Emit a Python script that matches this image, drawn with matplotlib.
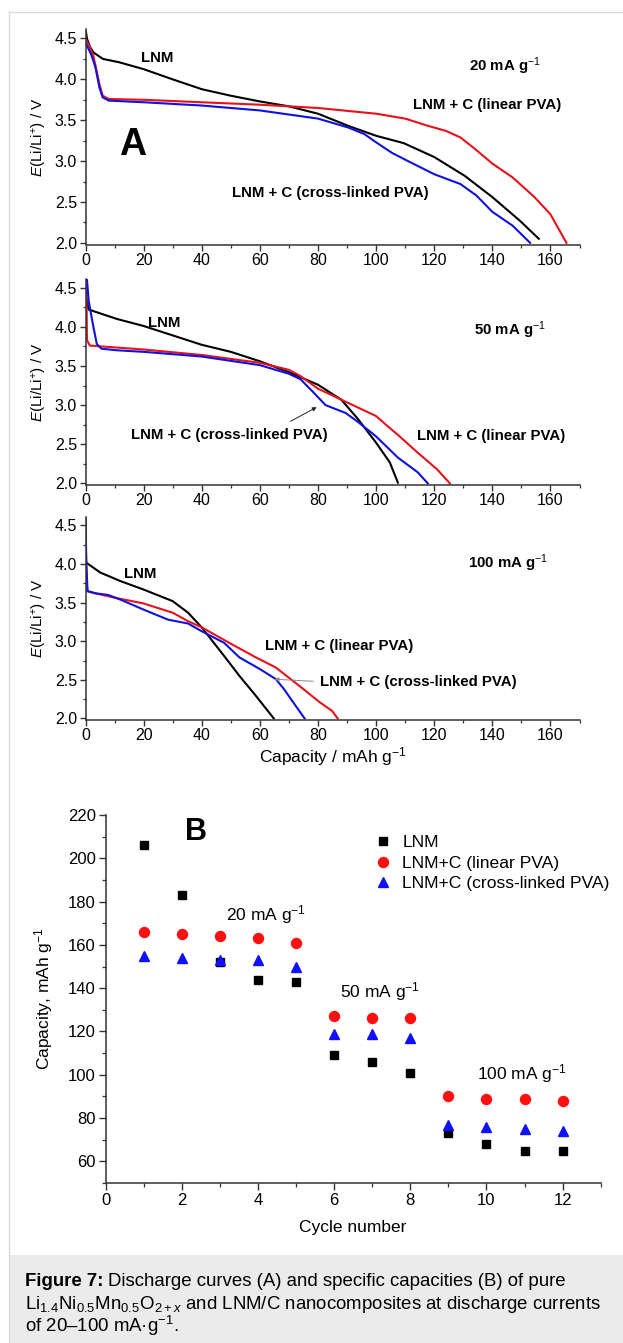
import matplotlib
matplotlib.use("Agg")
import matplotlib.pyplot as plt
from matplotlib.patches import Rectangle
from matplotlib.lines import Line2D
from matplotlib.ticker import MultipleLocator

plt.rcParams['font.family'] = ['Liberation Sans', 'DejaVu Sans']
plt.rcParams['mathtext.fontset'] = 'custom'
plt.rcParams['mathtext.rm'] = 'Liberation Sans'
plt.rcParams['mathtext.it'] = 'Liberation Sans:italic'
plt.rcParams['mathtext.bf'] = 'Liberation Sans:bold'

# ---------------- Data: panel A (discharge curves) ----------------
# 20 mA/g
a1_lnm_x = [0, 0.5, 1.5, 2.7, 6, 11.5, 20, 30, 40, 50, 60, 70, 80, 90.5, 100, 109.5, 120, 130.5, 140, 149.5, 156]
a1_lnm_y = [4.62, 4.5, 4.4, 4.33, 4.25, 4.21, 4.125, 4.0, 3.88, 3.8, 3.73, 3.67, 3.58, 3.43, 3.31, 3.22, 3.05, 2.82, 2.56, 2.27, 2.05]
a1_lin_x = [0, 1, 2.7, 4.8, 5.9, 8, 20, 40, 60, 80, 100, 110, 118, 124, 129, 134, 140, 147, 154.5, 160, 165.5]
a1_lin_y = [4.5, 4.43, 4.29, 3.94, 3.8, 3.76, 3.75, 3.72, 3.69, 3.65, 3.58, 3.52, 3.43, 3.37, 3.29, 3.15, 2.97, 2.8, 2.56, 2.35, 2.0]
a1_crs_x = [0, 2, 3.4, 4.8, 5.9, 8, 20, 40, 60, 80, 90.5, 96, 100, 105.5, 111, 120, 129, 134.5, 140, 147, 153]
a1_crs_y = [4.45, 4.3, 4.15, 3.9, 3.78, 3.74, 3.72, 3.68, 3.62, 3.52, 3.41, 3.33, 3.23, 3.1, 3.0, 2.84, 2.72, 2.58, 2.38, 2.21, 2.0]
# 50 mA/g
a2_lnm_x = [0, 0.3, 1.1, 10.8, 20, 30, 40, 50, 60, 70, 80, 88, 93.6, 100, 104.7, 107.5]
a2_lnm_y = [4.6, 4.35, 4.22, 4.1, 4.01, 3.89, 3.77, 3.68, 3.56, 3.42, 3.26, 3.07, 2.83, 2.52, 2.27, 2.01]
a2_lin_x = [0.3, 0.4, 0.5, 1.5, 5.2, 20, 40, 60, 70, 74, 80, 88, 100, 104, 107.5, 114.4, 121, 125.4]
a2_lin_y = [4.6, 4.2, 3.83, 3.76, 3.75, 3.71, 3.64, 3.54, 3.45, 3.37, 3.21, 3.07, 2.86, 2.73, 2.62, 2.39, 2.18, 2.0]
a2_crs_x = [0.5, 1.1, 2.5, 3.9, 5.5, 10.8, 20, 40, 60, 70, 74, 78.5, 82.6, 89.5, 93.6, 100, 107.5, 114.4, 117.8]
a2_crs_y = [4.6, 4.33, 4.04, 3.78, 3.72, 3.7, 3.68, 3.62, 3.51, 3.4, 3.33, 3.16, 3.0, 2.9, 2.79, 2.6, 2.33, 2.14, 2.0]
# 100 mA/g
a3_lnm_x = [0, 0.1, 0.2, 5.1, 12, 20, 30, 35.3, 40, 47.7, 53, 58.7, 64.8]
a3_lnm_y = [4.6, 4.2, 4.02, 3.89, 3.78, 3.67, 3.52, 3.37, 3.18, 2.81, 2.55, 2.29, 2.0]
a3_lin_x = [0, 0.3, 0.6, 2.3, 10.6, 20, 30, 35.3, 40, 50.4, 58.7, 65.5, 75, 80.6, 84.8, 86.8]
a3_lin_y = [4.4, 3.9, 3.65, 3.63, 3.56, 3.49, 3.37, 3.26, 3.18, 2.96, 2.79, 2.66, 2.38, 2.21, 2.1, 2.0]
a3_crs_x = [0, 0.3, 0.7, 3.7, 7.8, 12, 20, 28.4, 35.3, 40, 47.7, 53, 60, 65.5, 68.3, 72.4, 75.4]
a3_crs_y = [4.6, 4.0, 3.65, 3.62, 3.6, 3.54, 3.41, 3.28, 3.23, 3.13, 2.98, 2.79, 2.64, 2.51, 2.38, 2.16, 2.0]

# ---------------- Data: panel B (capacity vs cycle) ----------------
cycles = [1, 2, 3, 4, 5, 6, 7, 8, 9, 10, 11, 12]
cap_lnm = [206, 183, 152, 144, 143, 109, 106, 101, 73, 68, 65, 65]
cap_lin = [166, 165, 164, 163, 161, 127, 126, 126, 90, 89, 89, 88]
cap_crs = [155, 154, 153, 153, 150, 119, 119, 117, 77, 76, 75, 74]
legend_labels = ["LNM", "LNM+C (linear PVA)", "LNM+C (cross-linked PVA)"]

RED = '#e8101a'
BLUE = '#1010e0'

W, H = 623, 1343
fig = plt.figure(figsize=(W / 100, H / 100), dpi=100)
fig.patch.set_facecolor('white')

def fr(left, top, right, bottom):
    return [left / W, (H - bottom) / H, (right - left) / W, (bottom - top) / H]

# frame and caption
fig.add_artist(Line2D([8.7 / W, 1], [1 - 12 / H, 1 - 12 / H], color='#dcdcdc', lw=1.0))
fig.add_artist(Line2D([8.7 / W, 8.7 / W], [0, 1 - 12 / H], color='#dcdcdc', lw=1.0))
fig.add_artist(Rectangle((8.7 / W, 0), 1 - 8.7 / W, 88 / H, transform=fig.transFigure,
                         facecolor='#ebebeb', edgecolor='none'))

TICK_FS = 11.5
LAB_FS = 12.5
ANN_FS = 10.8

def style_A(ax, xlabel=False):
    ax.set_xlim(0, 170)
    ax.set_ylim(1.98, 4.61)
    for s in ['top', 'right']:
        ax.spines[s].set_visible(False)
    for s in ['left', 'bottom']:
        ax.spines[s].set_linewidth(1.1)
        ax.spines[s].set_color('#333333')
    ax.xaxis.set_major_locator(MultipleLocator(20))
    ax.xaxis.set_minor_locator(MultipleLocator(10))
    ax.yaxis.set_major_locator(MultipleLocator(0.5))
    ax.yaxis.set_minor_locator(MultipleLocator(0.25))
    ax.set_yticks([2.0, 2.5, 3.0, 3.5, 4.0, 4.5])
    ax.set_yticklabels(['2.0', '2.5', '3.0', '3.5', '4.0', '4.5'])
    ax.tick_params(which='major', direction='out', length=4.5, width=1.0, labelsize=TICK_FS, pad=1.5, color='#333333')
    ax.tick_params(which='minor', direction='out', length=2.5, width=0.9, color='#333333')
    ax.set_ylabel(r'$E$(Li/Li$^{+}$) / V', fontsize=11)
    ax.yaxis.set_label_coords(-0.093, 0.5)
    ax.yaxis.label.set_va('center')
    if xlabel:
        ax.set_xlabel(r'Capacity / mAh g$^{-1}$', fontsize=LAB_FS)
        ax.xaxis.set_label_coords(0.5, -0.182)
        ax.xaxis.label.set_va('center')

LW = 1.5
# ---- A1 ----
ax1 = fig.add_axes(fr(85.5, 29.5, 579.5, 244.5))
ax1.plot(a1_lnm_x, a1_lnm_y, color='black', lw=LW)
ax1.plot(a1_lin_x, a1_lin_y, color=RED, lw=LW)
ax1.plot(a1_crs_x, a1_crs_y, color=BLUE, lw=LW)
style_A(ax1)
ax1.text(16.3, 3.2, 'A', fontsize=27, fontweight='bold', ha='center', va='center')
ax1.text(19, 4.26, 'LNM', fontsize=ANN_FS, fontweight='bold', ha='left', va='center')
ax1.text(132, 4.155, r'20 mA g$^{-1}$', fontsize=ANN_FS, fontweight='bold', ha='left', va='center')
ax1.text(112.7, 3.686, 'LNM + C (linear PVA)', fontsize=ANN_FS, fontweight='bold', ha='left', va='center')
ax1.text(50.5, 2.61, 'LNM + C (cross-linked PVA)', fontsize=ANN_FS, fontweight='bold', ha='left', va='center')

# ---- A2 ----
ax2 = fig.add_axes(fr(85.5, 279, 579.5, 485))
ax2.plot(a2_lnm_x, a2_lnm_y, color='black', lw=LW)
ax2.plot(a2_lin_x, a2_lin_y, color=RED, lw=LW)
ax2.plot(a2_crs_x, a2_crs_y, color=BLUE, lw=LW)
style_A(ax2)
ax2.text(21.5, 4.05, 'LNM', fontsize=ANN_FS, fontweight='bold', ha='left', va='center')
ax2.text(133.7, 3.96, r'50 mA g$^{-1}$', fontsize=ANN_FS, fontweight='bold', ha='left', va='center')
ax2.text(15.6, 2.62, 'LNM + C (cross-linked PVA)', fontsize=ANN_FS, fontweight='bold', ha='left', va='center')
ax2.text(114, 2.60, 'LNM + C (linear PVA)', fontsize=ANN_FS, fontweight='bold', ha='left', va='center')
ax2.annotate('', xy=(80.4, 2.99), xytext=(69.7, 2.776),
             arrowprops=dict(arrowstyle='-|>', color='#222222', lw=0.7, mutation_scale=6))

# ---- A3 ----
ax3 = fig.add_axes(fr(85.5, 517, 579.5, 720))
ax3.plot(a3_lnm_x, a3_lnm_y, color='black', lw=LW)
ax3.plot(a3_lin_x, a3_lin_y, color=RED, lw=LW)
ax3.plot(a3_crs_x, a3_crs_y, color=BLUE, lw=LW)
style_A(ax3, xlabel=True)
ax3.text(13.3, 3.87, 'LNM', fontsize=ANN_FS, fontweight='bold', ha='left', va='center')
ax3.text(131.5, 4.01, r'100 mA g$^{-1}$', fontsize=ANN_FS, fontweight='bold', ha='left', va='center')
ax3.text(61.7, 2.94, 'LNM + C (linear PVA)', fontsize=ANN_FS, fontweight='bold', ha='left', va='center')
ax3.text(80.6, 2.47, 'LNM + C (cross-linked PVA)', fontsize=ANN_FS, fontweight='bold', ha='left', va='center')
ax3.annotate('', xy=(64.1, 2.51), xytext=(79.3, 2.48),
             arrowprops=dict(arrowstyle='-|>', color='#888888', lw=0.7, mutation_scale=6))

# ---- B ----
axb = fig.add_axes(fr(105.5, 815, 600.7, 1183))
axb.plot(cycles, cap_lnm, linestyle='none', marker='s', ms=6.2, color='black', label=legend_labels[0])
axb.plot(cycles, cap_lin, linestyle='none', marker='o', ms=7.2, color='#ff1010', label=legend_labels[1])
axb.plot(cycles, cap_crs, linestyle='none', marker='^', ms=7.8, color='#1010ff', label=legend_labels[2])
axb.set_xlim(0, 13)
axb.set_ylim(50, 220)
for s in ['top', 'right']:
    axb.spines[s].set_visible(False)
for s in ['left', 'bottom']:
    axb.spines[s].set_linewidth(1.1)
    axb.spines[s].set_color('#333333')
axb.xaxis.set_major_locator(MultipleLocator(2))
axb.xaxis.set_minor_locator(MultipleLocator(1))
axb.yaxis.set_major_locator(MultipleLocator(20))
axb.yaxis.set_minor_locator(MultipleLocator(10))
axb.set_yticks([60, 80, 100, 120, 140, 160, 180, 200, 220])
axb.tick_params(which='major', direction='out', length=5, width=1.0, labelsize=12, pad=2, color='#333333')
axb.tick_params(which='minor', direction='out', length=3, width=0.9, color='#333333')
axb.set_xlabel('Cycle number', fontsize=LAB_FS)
axb.xaxis.set_label_coords(0.5, -0.12)
axb.xaxis.label.set_va('center')
axb.set_ylabel(r'Capacity, mAh g$^{-1}$', fontsize=LAB_FS)
axb.yaxis.set_label_coords(-0.125, 0.5)
axb.yaxis.label.set_va('center')
axb.text(2.09, 212.1, 'B', fontsize=22, fontweight='bold', ha='left', va='center')
axb.text(3.17, 173.8, r'20 mA g$^{-1}$', fontsize=12.5, ha='left', va='center')
axb.text(6.16, 138.3, r'50 mA g$^{-1}$', fontsize=12.5, ha='left', va='center')
axb.text(9.75, 100.7, r'100 mA g$^{-1}$', fontsize=12.5, ha='left', va='center')
leg = axb.legend(loc='upper left', bbox_to_anchor=(0.543, 0.945), frameon=False, fontsize=12.6,
                 handlelength=1.0, handletextpad=0.6, labelspacing=0.3, borderpad=0,
                 borderaxespad=0, numpoints=1)

# ---- caption ----
CAP_FS = 13.4
cx = 24.6 / W
renderer = fig.canvas.get_renderer()
t_bold = fig.text(cx, (H - 1286) / H, 'Figure 7:', fontsize=CAP_FS, fontweight='bold',
                  ha='left', va='baseline')
bb = t_bold.get_window_extent(renderer=renderer)
fig.text(bb.x1 / W + 4.5 / W, (H - 1286) / H,
         'Discharge curves (A) and specific capacities (B) of pure',
         fontsize=CAP_FS, ha='left', va='baseline')
fig.text(cx, (H - 1309) / H,
         r'Li$_{\mathrm{1.4}}$Ni$_{\mathrm{0.5}}$Mn$_{\mathrm{0.5}}$O$_{\mathrm{2+}x}$ and LNM/C nanocomposites at discharge currents',
         fontsize=CAP_FS, ha='left', va='baseline')
fig.text(cx, (H - 1332) / H, r'of 20–100 mA·g$^{\mathrm{-1}}$.', fontsize=CAP_FS, ha='left', va='baseline')

fig.savefig('out.png', dpi=100, facecolor='white')
